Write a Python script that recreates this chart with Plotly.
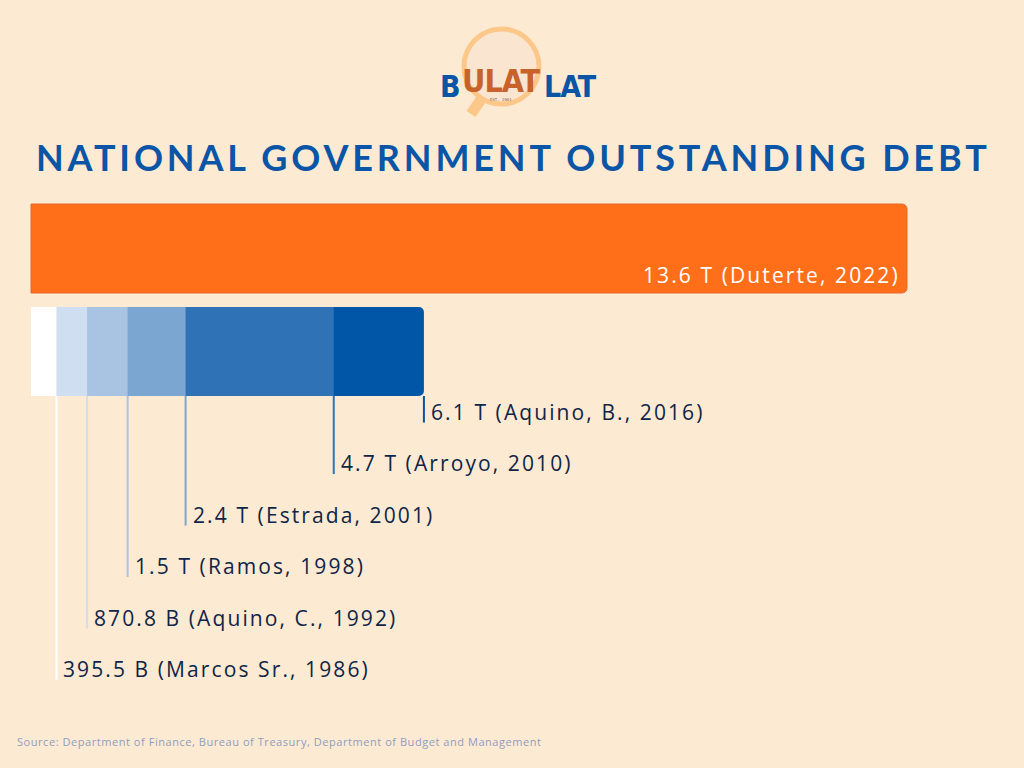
import plotly.graph_objects as go

# ---- data ----
top_value = 13.6
top_label = "13.6 T (Duterte, 2022)"
values = [0.3955, 0.8708, 1.5, 2.4, 4.7, 6.1]          # trillion pesos
labels = ["395.5 B (Marcos Sr., 1986)", "870.8 B (Aquino, C., 1992)",
          "1.5 T (Ramos, 1998)", "2.4 T (Estrada, 2001)",
          "4.7 T (Arroyo, 2010)", "6.1 T (Aquino, B., 2016)"]
colors = ["#ffffff", "#cfdef0", "#a9c4e2", "#7ba6d1", "#2f73b6", "#0156a8"]

BG = "#fdead2"
W, H = 1024, 768
PX_PER_T = 876 / 13.6
X0 = 31
YSTEP = 103.0
YC0 = 248.5

xr = [-X0 / PX_PER_T, (W - X0) / PX_PER_T]
yr = [(H - YC0) / YSTEP, -YC0 / YSTEP]

fig = go.Figure()

# orange bar
fig.add_trace(go.Bar(x=[top_value], y=[0], orientation="h", width=0.864,
                     marker=dict(color="#ff6f1a", line=dict(color="#e5682c", width=1),
                                 cornerradius=5),
                     hoverinfo="skip", showlegend=False))

# blue stacked (overlay, largest first)
n = len(values)
for i in range(n - 1, -1, -1):
    fig.add_trace(go.Bar(x=[values[i]], y=[1], orientation="h", width=0.864,
                         marker=dict(color=colors[i], line=dict(width=0),
                                     cornerradius=5 if i == n - 1 else 0),
                         hoverinfo="skip", showlegend=False))

shapes = []
annotations = []
SPACING = "letter-spacing:2.1px"
LABEL_FONT = dict(family="Open Sans, Noto Sans, sans-serif", size=21, color="#0f2548")
for i in range(n):
    k = n - 1 - i
    ly = 1.585 + 0.5 * k
    shapes.append(dict(type="line", xref="x", yref="y", x0=values[i], x1=values[i],
                       y0=1.432, y1=ly + 0.105, line=dict(color=colors[i], width=2), layer="above"))
    annotations.append(dict(x=values[i], y=ly, xref="x", yref="y", xanchor="left", yanchor="middle",
                            xshift=5, showarrow=False,
                            text='<span style="' + SPACING + '">' + labels[i] + '</span>',
                            font=LABEL_FONT))

annotations.append(dict(x=top_value, y=0.257, xref="x", yref="y", xanchor="right", yanchor="middle",
                        xshift=-5, showarrow=False,
                        text='<span style="' + SPACING + '">' + top_label + '</span>',
                        font=dict(family="Open Sans, Noto Sans, sans-serif", size=21, color="#ffffff")))

def px(x):
    return x / W

def py(y):
    return 1 - y / H

# title
annotations.append(dict(x=px(513), y=py(157), xref="paper", yref="paper", xanchor="center", yanchor="middle",
                        showarrow=False,
                        text='<span style="letter-spacing:3.85px">NATIONAL GOVERNMENT OUTSTANDING DEBT</span>',
                        font=dict(family="Lato, sans-serif", size=36, color="#0a55a6", weight=700)))

# source
annotations.append(dict(x=px(15), y=py(741), xref="paper", yref="paper", xanchor="left", yanchor="middle",
                        showarrow=False,
                        text='<span style="letter-spacing:0.55px">Source: Department of Finance, Bureau of Treasury, Department of Budget and Management</span>',
                        font=dict(family="Open Sans, sans-serif", size=11, color="#8e9ec2")))

# logo
shapes.append(dict(type="line", xref="paper", yref="paper", x0=px(482), y0=py(98), x1=px(471), y1=py(114),
                   line=dict(color="#fcc88a", width=11), layer="above"))
shapes.append(dict(type="circle", xref="paper", yref="paper", x0=px(464), x1=px(539), y0=py(29), y1=py(104),
                   fillcolor="#f9e5d0", line=dict(color="#fcc88a", width=5), layer="above"))
LOGO_FONT = "Liberation Sans Narrow, DejaVu Sans Condensed, Arial Narrow, sans-serif"
annotations.append(dict(x=px(450), y=py(67), xref="paper", yref="paper", showarrow=False,
                        text='<b>B</b>',
                        font=dict(family=LOGO_FONT, size=30, color="#0a55a6")))
annotations.append(dict(x=px(570), y=py(67), xref="paper", yref="paper", showarrow=False,
                        text='<b><span style="letter-spacing:-1px">LAT</span></b>',
                        font=dict(family=LOGO_FONT, size=30, color="#0a55a6")))
annotations.append(dict(x=px(501), y=py(60), xref="paper", yref="paper", showarrow=False,
                        text='<b><span style="letter-spacing:-1px">ULAT</span></b>',
                        font=dict(family=LOGO_FONT, size=32, color="#c8622b")))
annotations.append(dict(x=px(501), y=py(95), xref="paper", yref="paper", showarrow=False,
                        text="EST. 2001", font=dict(family="DejaVu Sans Mono, monospace", size=4, color="#8a6a55")))

fig.update_layout(
    width=W, height=H,
    margin=dict(l=0, r=0, t=0, b=0),
    paper_bgcolor=BG, plot_bgcolor=BG,
    barmode="overlay",
    xaxis=dict(range=xr, visible=False, fixedrange=True),
    yaxis=dict(range=yr, visible=False, fixedrange=True),
    shapes=shapes,
    annotations=annotations,
    showlegend=False,
)

fig.write_html("out.html", config={"displayModeBar": False},
               post_script="document.body.style.margin='0';document.body.style.background='" + BG + "';document.body.style.overflow='hidden';")
